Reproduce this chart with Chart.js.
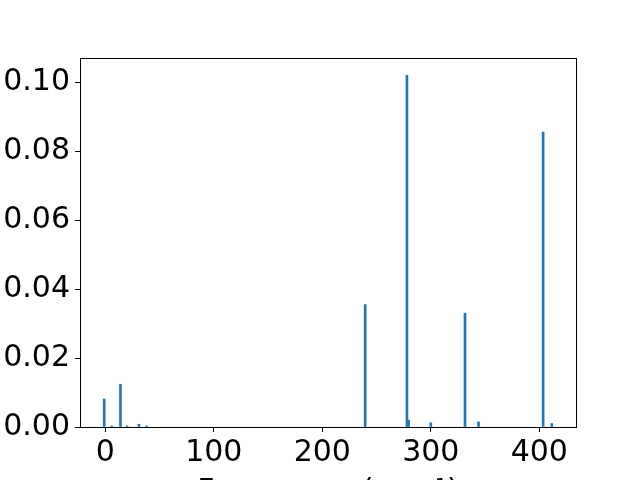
<!DOCTYPE html>
<html>
<head>
<meta charset="utf-8">
<script src="https://cdn.jsdelivr.net/npm/chart.js@4/dist/chart.umd.min.js"></script>
<style>
html,body{margin:0;padding:0;overflow:hidden;background:#fff;width:640px;height:480px;}
canvas{display:block;}
</style>
</head>
<body>
<canvas id="c" width="640" height="510"></canvas>
<script>
// Data
const frequencies = [-1, 6, 14, 20, 31, 38, 239.5, 278, 279.5, 300, 331.5, 344, 403.5, 411.5];
const intensities = [0.0081, 0.0003, 0.0124, 0.0003, 0.0008, 0.0003, 0.0355, 0.102, 0.002, 0.0012, 0.033, 0.0015, 0.0855, 0.001];
const xTickValues = [0, 100, 200, 300, 400];
const yTickValues = [0, 0.02, 0.04, 0.06, 0.08, 0.10];
const xTitle = 'Frequency (cm\u207B\u00B9)';

const points = frequencies.map((f, i) => ({x: f, y: intensities[i]}));

const frame = {
  id: 'frame',
  afterDraw(chart) {
    const {ctx, chartArea: a} = chart;
    ctx.save();
    ctx.strokeStyle = '#000';
    ctx.lineWidth = 1;
    ctx.strokeRect(Math.round(a.left) + 0.5, Math.round(a.top) + 0.5,
                   Math.round(a.right - a.left), Math.round(a.bottom - a.top));
    ctx.restore();
  }
};

const font = {family: 'DejaVu Sans', size: 30};
new Chart(document.getElementById('c'), {
  type: 'bar',
  data: {
    datasets: [{
      data: points,
      backgroundColor: '#1f77b4',
      borderWidth: 0,
      barThickness: 2
    }]
  },
  options: {
    responsive: false,
    animation: false,
    devicePixelRatio: 1,
    layout: {padding: {top: 58, right: 64, left: 0, bottom: 0}},
    plugins: {legend: {display: false}, tooltip: {enabled: false}},
    scales: {
      x: {
        type: 'linear',
        offset: false,
        min: -23.3,
        max: 433.8,
        afterBuildTicks: s => { s.ticks = xTickValues.map(v => ({value: v})); },
        afterFit: s => { s.height = 83; },
        grid: {offset: false, drawOnChartArea: false, drawTicks: true, tickLength: 5, tickColor: '#000', tickWidth: 1},
        border: {display: false},
        ticks: {color: '#000', font, padding: 3, maxRotation: 0, autoSkip: false},
        title: {display: true, text: xTitle, color: '#000', font, padding: 0}
      },
      y: {
        min: 0,
        max: 0.107,
        afterBuildTicks: s => { s.ticks = yTickValues.map(v => ({value: v})); },
        afterFit: s => { s.width = 80; },
        grid: {drawOnChartArea: false, drawTicks: true, tickLength: 5, tickColor: '#000', tickWidth: 1},
        border: {display: false},
        ticks: {color: '#000', font, padding: 5, callback: v => v.toFixed(2), autoSkip: false}
      }
    }
  },
  plugins: [frame]
});
</script>
</body>
</html>
